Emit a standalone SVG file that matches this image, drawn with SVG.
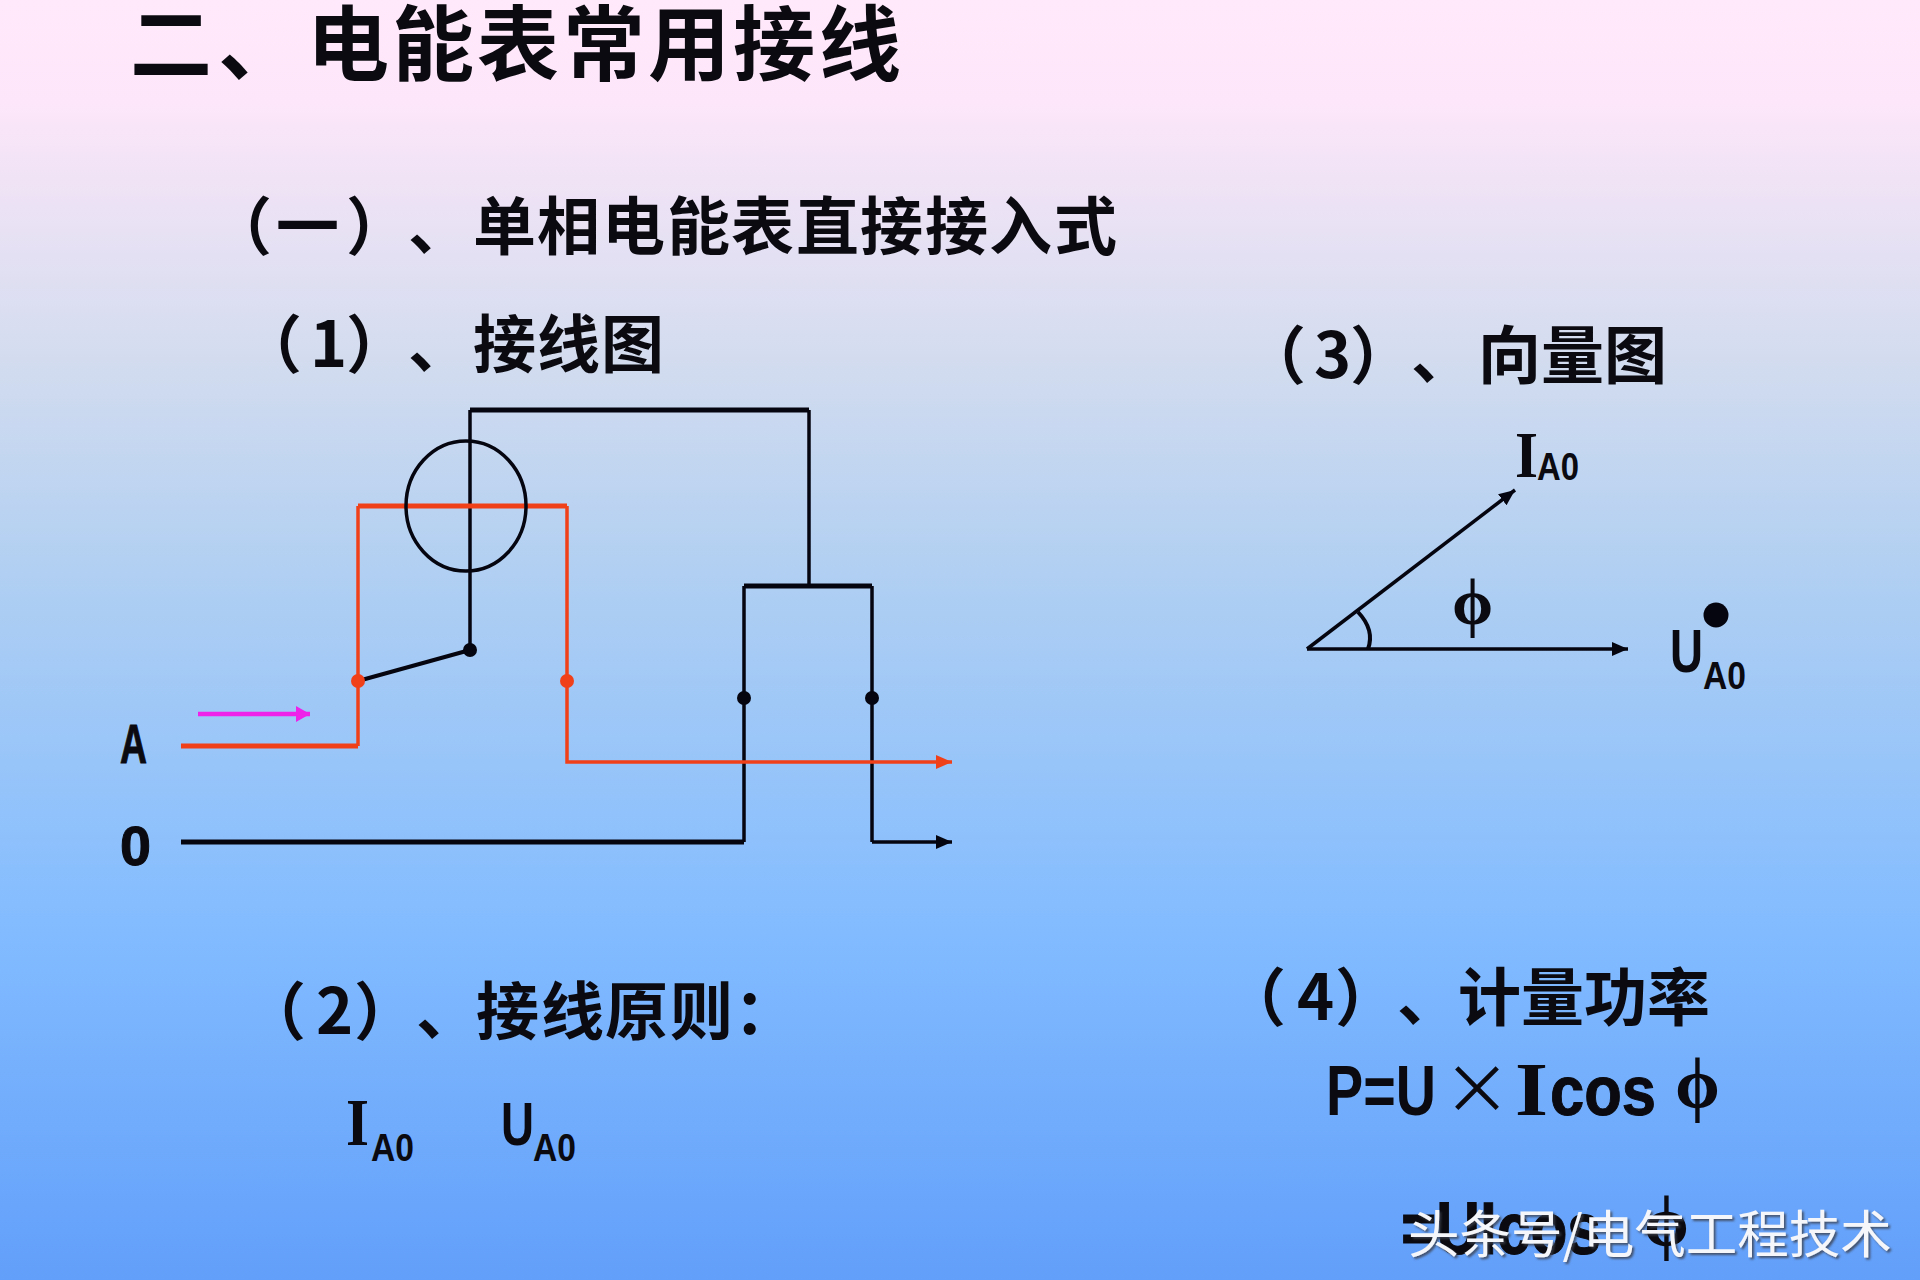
<svg xmlns="http://www.w3.org/2000/svg" width="1920" height="1280" viewBox="0 0 1920 1280">
<style>
.cjk{font-family:"Noto Sans CJK SC","Liberation Sans",sans-serif;font-weight:700;fill:#0a0a10}
.h2{font-size:63px}
.lat{font-family:"Liberation Sans","Noto Sans CJK SC",sans-serif;font-weight:700;fill:#0a0a10}
.hv{stroke:#0a0a10;stroke-width:1}
.ser{font-family:"Liberation Serif",serif;font-weight:700;fill:#0a0a10}
.k{fill:none;stroke:#050510;stroke-width:3.5}
.K{fill:none;stroke:#050510;stroke-width:5}
.r{fill:none;stroke:#f0401a;stroke-width:3.5}
.R{fill:none;stroke:#f0401a;stroke-width:5}
.dk{fill:#050510}
.dr{fill:#f0401a}
.wm{font-family:"Noto Sans CJK SC",sans-serif;font-weight:400;font-size:51.5px;fill:#f4f6fa;filter:url(#sh)}
</style>
<defs>
<linearGradient id="bg" x1="0" y1="0" x2="0" y2="1">
<stop offset="0" stop-color="#ffe9fb"/>
<stop offset="0.08" stop-color="#fde6f9"/>
<stop offset="0.28" stop-color="#d3dcef"/>
<stop offset="0.45" stop-color="#b0cff2"/>
<stop offset="0.72" stop-color="#83bcff"/>
<stop offset="1" stop-color="#629ffa"/>
</linearGradient>
<filter id="sh" x="-5%" y="-20%" width="110%" height="140%"><feDropShadow dx="2" dy="2" stdDeviation="0.8" flood-color="#3a3f4a" flood-opacity="0.8"/></filter>
<marker id="ak" markerUnits="userSpaceOnUse" markerWidth="18" markerHeight="18" refX="16" refY="8" orient="auto"><path d="M0 1L16 8L0 15Z" fill="#050510"/></marker>
<marker id="ar" markerUnits="userSpaceOnUse" markerWidth="18" markerHeight="18" refX="16" refY="8" orient="auto"><path d="M0 1L16 8L0 15Z" fill="#f0401a"/></marker>
<marker id="am" markerUnits="userSpaceOnUse" markerWidth="18" markerHeight="18" refX="16" refY="8" orient="auto"><path d="M2 0L16 8L2 16Z" fill="#ee22e8"/></marker>
</defs>
<rect width="1920" height="1280" fill="url(#bg)"/>
<g id="headings">
<text class="cjk" font-size="82" x="130 218 307 392 477 563 648 733 819" y="74">二、电能表常用接线</text>
<text class="cjk h2" x="209 276 346 408 473 537 602 667 731 796 860 925 989 1054" y="249">（一）、单相电能表直接接入式</text>
<text class="cjk h2" x="239 310 346 408 473 537 601" y="367">（1）、接线图</text>
<text class="cjk h2" x="1243 1314 1350 1411 1478 1541 1604" y="378">（3）、向量图</text>
<text class="cjk h2" x="243 316 354 416 476 541 605 670 734" y="1034">（2）、接线原则：</text>
<text class="cjk h2" x="1223 1297 1335 1397 1458 1521 1584 1647" y="1020">（4）、计量功率</text>
</g>
<g id="connectors">
<path class="k" d="M470 650V410"/>
<path class="K" d="M470 410H809"/>
<path class="k" d="M809 410V586"/>
<path class="K" d="M744 586H872"/>
<path class="k" d="M744 586V842M872 586V842"/>
<path class="R" d="M181 746H358"/>
<path class="r" d="M358 746V506"/>
<path class="R" d="M358 506H567"/>
<path class="r" d="M567 506V762H952" marker-end="url(#ar)"/>
<path class="K" d="M181 842H744"/>
<path class="k" d="M872 842H952" marker-end="url(#ak)"/>
<path class="K" style="stroke-width:4" d="M358 681L470 650"/>
<path fill="none" stroke="#ee22e8" stroke-width="4.5" d="M198 714H310" marker-end="url(#am)"/>
</g>
<g id="meter"><ellipse class="k" cx="466" cy="506" rx="60" ry="65"/></g>
<g id="junctions">
<circle class="dr" cx="358" cy="681" r="7"/><circle class="dr" cx="567" cy="681" r="7"/>
<circle class="dk" cx="470" cy="650" r="7"/><circle class="dk" cx="744" cy="698" r="7"/><circle class="dk" cx="872" cy="698" r="7"/>
</g>
<g id="phase-labels">
<text class="lat hv" x="120" y="763" font-size="55" textLength="27" lengthAdjust="spacingAndGlyphs">A</text>
<text class="lat hv" x="120" y="865" font-size="55" textLength="31" lengthAdjust="spacingAndGlyphs">0</text>
</g>
<g id="principle">
<text class="ser" x="346" y="1145" font-size="68" textLength="23" lengthAdjust="spacingAndGlyphs">I</text>
<text class="lat" x="371" y="1161" font-size="39" textLength="43" lengthAdjust="spacingAndGlyphs">A0</text>
<text class="lat" x="501" y="1145" font-size="62" textLength="33" lengthAdjust="spacingAndGlyphs">U</text>
<text class="lat" x="533" y="1161" font-size="39" textLength="43" lengthAdjust="spacingAndGlyphs">A0</text>
</g>
<g id="vector">
<path class="k" d="M1307 649L1515 490" marker-end="url(#ak)"/>
<path class="k" d="M1307 649H1628" marker-end="url(#ak)"/>
<path class="K" style="stroke-width:4" d="M1358 612Q1375 630 1368 649"/>
<text class="ser" x="1515" y="477" font-size="66" textLength="23" lengthAdjust="spacingAndGlyphs">I</text>
<text class="lat" x="1537" y="480" font-size="38" textLength="42" lengthAdjust="spacingAndGlyphs">A0</text>
<text class="ser" x="1452" y="624" font-size="66">ϕ</text>
<text class="lat" x="1670" y="672" font-size="62" textLength="33" lengthAdjust="spacingAndGlyphs">U</text>
<circle class="dk" cx="1716" cy="615" r="12.5"/>
<text class="lat" x="1703" y="689" font-size="38" textLength="43" lengthAdjust="spacingAndGlyphs">A0</text>
</g>
<g id="formula">
<text class="lat" x="1326" y="1115" font-size="70" textLength="110" lengthAdjust="spacingAndGlyphs">P=U</text>
<text class="cjk" style="font-weight:400" x="1443" y="1114" font-size="68">×</text>
<text class="ser" x="1515" y="1115" font-size="76" textLength="33" lengthAdjust="spacingAndGlyphs">I</text>
<text class="lat hv" x="1550" y="1115" font-size="70" textLength="106" lengthAdjust="spacingAndGlyphs">cos</text>
<text class="ser" x="1675" y="1108" font-size="72">ϕ</text>
<text class="lat hv" x="1401" y="1254" font-size="74" textLength="200" lengthAdjust="spacingAndGlyphs">=UIcos</text>
<text class="ser" x="1644" y="1246" font-size="72">ϕ</text>
</g>
<g id="watermark">
<text class="wm" x="1408" y="1253">头条号/电气工程技术</text>
</g>
</svg>
